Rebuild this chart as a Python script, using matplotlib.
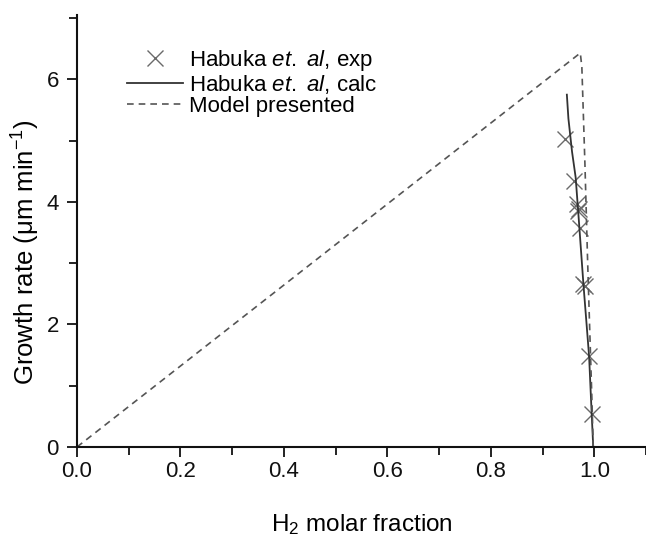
import matplotlib
matplotlib.use("Agg")
import matplotlib.pyplot as plt
from matplotlib.ticker import MultipleLocator

plt.rcParams['font.family'] = ['Liberation Sans', 'DejaVu Sans']
plt.rcParams['mathtext.fontset'] = 'custom'
plt.rcParams['mathtext.rm'] = 'Liberation Sans'
plt.rcParams['mathtext.it'] = 'Liberation Sans:italic'

# experimental points (Habuka et al.)
exp_x = [0.944, 0.960, 0.966, 0.970, 0.968, 0.973, 0.979, 0.982, 0.989, 0.995]
exp_y = [5.02, 4.34, 3.97, 3.89, 3.85, 3.58, 2.66, 2.63, 1.48, 0.54]

# calculated curve (Habuka et al.)
calc_x = [0.947, 0.950, 0.957, 0.964, 0.970, 0.979, 0.990, 0.995, 0.998]
calc_y = [5.75, 5.36, 4.82, 4.40, 3.72, 2.66, 1.48, 0.54, 0.0]

# model presented
model_x = [0.0, 0.973, 0.976, 0.982, 0.987, 0.991, 0.995, 0.998]
model_y = [0.0, 6.43, 6.20, 4.60, 3.07, 1.97, 0.90, 0.0]

fig = plt.figure(figsize=(6.46, 5.48), dpi=100)
ax = fig.add_axes([77/646, 1-447/548, 1-77/646, (447-15)/548])

ax.plot(exp_x, exp_y, linestyle='none', marker='x', markersize=12,
        markeredgewidth=1.0, color='#6a6a6a', label=r'Habuka $et.$ $al$, exp')
ax.plot(calc_x, calc_y, '-', color='#333333', lw=1.3,
        label=r'Habuka $et.$ $al$, calc')
ax.plot(model_x, model_y, '--', color='#555555', lw=1.2, dashes=(4, 3),
        label='Model presented')

ax.set_xlim(0, 1.1)
ax.set_ylim(0, 7.05)
ax.xaxis.set_minor_locator(MultipleLocator(0.1))
ax.yaxis.set_minor_locator(MultipleLocator(1))
ax.set_xticks([0.0, 0.2, 0.4, 0.6, 0.8, 1.0])
ax.set_xticklabels(['0.0', '0.2', '0.4', '0.6', '0.8', '1.0'])
ax.set_yticks([0, 2, 4, 6])
ax.set_yticklabels(['0', '2', '4', '6'])

for s in ['top', 'right']:
    ax.spines[s].set_visible(False)
for s in ['left', 'bottom']:
    ax.spines[s].set_linewidth(1.5)
    ax.spines[s].set_color('#111111')
ax.tick_params(which='major', direction='out', length=7, width=1.3,
               labelsize=16, colors='#111111')
ax.tick_params(which='minor', direction='out', length=6, width=1.3,
               colors='#111111')
ax.tick_params(axis='x', which='major', pad=3)
ax.tick_params(axis='y', which='major', pad=6)

ax.set_xlabel(r'H$_2$ molar fraction', fontsize=17.5, labelpad=22)
ax.set_ylabel('Growth rate (μm min$^{-1}$)', fontsize=18.5)
ax.yaxis.set_label_coords(-0.062, 0.45)

leg = ax.legend(loc='upper left', bbox_to_anchor=(127/646, 1-48/548),
                bbox_transform=fig.transFigure, frameon=False, fontsize=16,
                handlelength=2.5, handletextpad=0.3, labelspacing=0.0,
                borderaxespad=0, borderpad=0)

fig.savefig('out.png', dpi=100)
